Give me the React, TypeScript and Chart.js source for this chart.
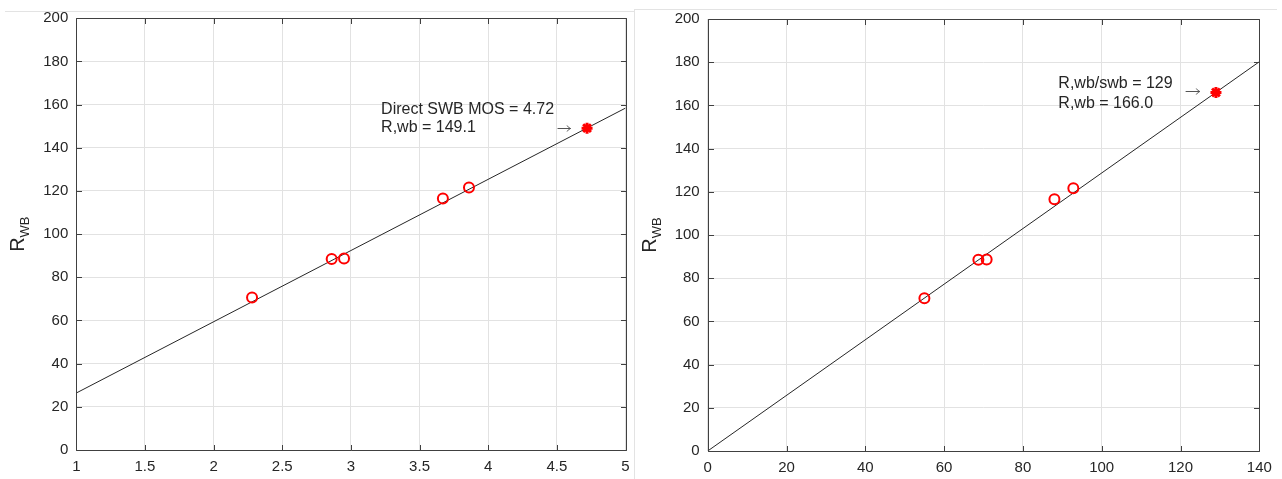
import React, { useEffect, useRef } from "react";
import { Chart, registerables } from "chart.js";

Chart.register(...registerables);

// ---------- data ----------
const R_WB_VALUES = [70.7, 88.5, 88.7, 116.5, 121.6];
const MOS_VALUES = [2.28, 2.86, 2.95, 3.67, 3.86];
const R_WB_SWB_VALUES = [55, 68.7, 70.8, 88, 92.8];

const LEFT_FIT_X = [1, 5];
const LEFT_FIT_Y = [26.4, 158.4];
const RIGHT_FIT_X = [0, 140];
const RIGHT_FIT_Y = [0, 180.2];

const LEFT_STAR_X = [4.72];
const LEFT_STAR_Y = [149.1];
const RIGHT_STAR_X = [129];
const RIGHT_STAR_Y = [166.0];

const LEFT_X_TICKS = [1, 1.5, 2, 2.5, 3, 3.5, 4, 4.5, 5];
const RIGHT_X_TICKS = [0, 20, 40, 60, 80, 100, 120, 140];
const Y_TICKS = [0, 20, 40, 60, 80, 100, 120, 140, 160, 180, 200];

const LEFT_NOTE = ["Direct SWB MOS = 4.72", "R,wb = 149.1"];
const RIGHT_NOTE = ["R,wb/swb = 129", "R,wb = 166.0"];
const Y_LABEL_MAIN = "R";
const Y_LABEL_SUB = "WB";

const FONT = "'Liberation Sans', Arial, sans-serif";
const TEXT_COLOR = "#262626";
const FRAME_COLOR = "#404040";
const GRID_COLOR = "#e2e2e2";

type Note = {
  lines: string[];
  textX: number;
  lineY: number[];
  arrowX: [number, number];
  arrowY: number;
};

function makePlugin(note: Note) {
  return {
    id: "matlabDecor",
    afterDraw(chart: any) {
      const { ctx, chartArea } = chart;
      const xs = chart.scales.x;
      const ys = chart.scales.y;
      const { left, right, top, bottom } = chartArea;
      ctx.save();
      // frame
      ctx.strokeStyle = FRAME_COLOR;
      ctx.lineWidth = 1;
      const L = Math.round(left) + 0.5;
      const R = Math.round(right) + 0.5;
      const T = Math.round(top) + 0.5;
      const B = Math.round(bottom) + 0.5;
      ctx.beginPath();
      ctx.rect(L, T, R - L, B - T);
      ctx.stroke();
      // inward ticks
      const tl = 5.5;
      ctx.beginPath();
      xs.ticks.forEach((t: any) => {
        const px = Math.round(xs.getPixelForValue(t.value)) + 0.5;
        ctx.moveTo(px, B);
        ctx.lineTo(px, B - tl);
        ctx.moveTo(px, T);
        ctx.lineTo(px, T + tl);
      });
      ys.ticks.forEach((t: any) => {
        const py = Math.round(ys.getPixelForValue(t.value)) + 0.5;
        ctx.moveTo(L, py);
        ctx.lineTo(L + tl, py);
        ctx.moveTo(R, py);
        ctx.lineTo(R - tl, py);
      });
      ctx.stroke();

      // y label R_WB
      const cy = (top + bottom) / 2;
      const bx = left - 52;
      ctx.translate(bx, cy);
      ctx.rotate(-Math.PI / 2);
      ctx.fillStyle = TEXT_COLOR;
      ctx.textBaseline = "alphabetic";
      ctx.font = `20px ${FONT}`;
      const wR = ctx.measureText(Y_LABEL_MAIN).width;
      ctx.font = `13px ${FONT}`;
      const wS = ctx.measureText(Y_LABEL_SUB).width;
      const x0 = -(wR + wS) / 2;
      ctx.font = `20px ${FONT}`;
      ctx.fillText(Y_LABEL_MAIN, x0, 0);
      ctx.font = `13px ${FONT}`;
      ctx.fillText(Y_LABEL_SUB, x0 + wR, 5);
      ctx.restore();

      // annotation text
      ctx.save();
      ctx.fillStyle = TEXT_COLOR;
      ctx.font = `16px ${FONT}`;
      ctx.textBaseline = "middle";
      ctx.textAlign = "left";
      note.lines.forEach((s, i) => {
        ctx.fillText(s, xs.getPixelForValue(note.textX), ys.getPixelForValue(note.lineY[i]));
      });
      // arrow
      const ax0 = xs.getPixelForValue(note.arrowX[0]);
      const ax1 = xs.getPixelForValue(note.arrowX[1]);
      const ay = Math.round(ys.getPixelForValue(note.arrowY)) + 0.5;
      ctx.strokeStyle = "#555555";
      ctx.lineWidth = 1;
      ctx.beginPath();
      ctx.moveTo(ax0, ay);
      ctx.lineTo(ax1, ay);
      ctx.moveTo(ax1 - 3.5, ay - 3);
      ctx.quadraticCurveTo(ax1 - 2, ay - 0.5, ax1, ay);
      ctx.moveTo(ax1 - 3.5, ay + 3);
      ctx.quadraticCurveTo(ax1 - 2, ay + 0.5, ax1, ay);
      ctx.stroke();
      ctx.restore();
    },
  };
}

type PanelProps = {
  fitX: number[];
  fitY: number[];
  ptsX: number[];
  ptsY: number[];
  starX: number[];
  starY: number[];
  xTicks: number[];
  xMin: number;
  xMax: number;
  note: Note;
  pad: { top: number; right: number };
  yWidth: number;
  xHeight: number;
};

function Panel(p: PanelProps) {
  const ref = useRef<HTMLCanvasElement>(null);
  useEffect(() => {
    if (!ref.current) return;
    const tickFont = { family: FONT, size: 15 };
    const chart = new Chart(ref.current, {
      type: "scatter",
      data: {
        datasets: [
          {
            type: "line",
            data: p.fitX.map((x, i) => ({ x, y: p.fitY[i] })),
            borderColor: "#262626",
            borderWidth: 1,
            pointRadius: 0,
            fill: false,
            order: 3,
          } as any,
          {
            data: p.ptsX.map((x, i) => ({ x, y: p.ptsY[i] })),
            pointStyle: "circle",
            pointRadius: 5,
            borderWidth: 2,
            borderColor: "#ff0000",
            backgroundColor: "rgba(0,0,0,0)",
            order: 2,
          },
          {
            data: p.starX.map((x, i) => ({ x, y: p.starY[i] })),
            pointStyle: "star",
            pointRadius: 5.5,
            borderWidth: 3,
            borderColor: "#ff0000",
            backgroundColor: "#ff0000",
            order: 1,
          },
        ],
      },
      options: {
        animation: false,
        responsive: true,
        maintainAspectRatio: false,
        events: [],
        layout: { padding: { top: p.pad.top, right: p.pad.right, left: 0, bottom: 0 } },
        plugins: { legend: { display: false }, tooltip: { enabled: false } },
        scales: {
          x: {
            type: "linear",
            min: p.xMin,
            max: p.xMax,
            afterBuildTicks: (s: any) => {
              s.ticks = p.xTicks.map((v) => ({ value: v }));
            },
            afterFit: (s: any) => {
              s.height = p.xHeight;
              s.paddingLeft = 0;
              s.paddingRight = 0;
            },
            ticks: {
              font: tickFont,
              color: TEXT_COLOR,
              padding: 8,
              autoSkip: false,
              maxRotation: 0,
              callback: (v: any) => String(v),
            },
            grid: { color: GRID_COLOR, drawTicks: false, lineWidth: 1 },
            border: { display: false },
          },
          y: {
            type: "linear",
            min: 0,
            max: 200,
            afterBuildTicks: (s: any) => {
              s.ticks = Y_TICKS.map((v) => ({ value: v }));
            },
            afterFit: (s: any) => {
              s.width = p.yWidth;
              s.paddingTop = 0;
              s.paddingBottom = 0;
            },
            ticks: {
              font: tickFont,
              color: TEXT_COLOR,
              padding: 8,
              autoSkip: false,
              callback: (v: any) => String(v),
            },
            grid: { color: GRID_COLOR, drawTicks: false, lineWidth: 1 },
            border: { display: false },
          },
        },
      },
      plugins: [makePlugin(p.note)],
    } as any);
    return () => chart.destroy();
  }, []);
  return <canvas ref={ref} />;
}

export default function App() {
  return (
    <div
      style={{
        position: "fixed",
        left: 0,
        top: 0,
        width: 1282,
        height: 479,
        background: "#ffffff",
        overflow: "hidden",
      }}
    >
      <div style={{ position: "absolute", left: 5, top: 11, width: 629, height: 0, borderTop: "1px solid #e3e3e3" }} />
      <div style={{ position: "absolute", left: 634, top: 9, width: 642, height: 470, borderTop: "1px solid #e3e3e3", borderLeft: "1px solid #e3e3e3" }} />
      <div style={{ position: "absolute", left: 0, top: 0, width: 634, height: 479 }}>
        <Panel
          fitX={LEFT_FIT_X}
          fitY={LEFT_FIT_Y}
          ptsX={MOS_VALUES}
          ptsY={R_WB_VALUES}
          starX={LEFT_STAR_X}
          starY={LEFT_STAR_Y}
          xTicks={LEFT_X_TICKS}
          xMin={1}
          xMax={5}
          note={{ lines: LEFT_NOTE, textX: 3.22, lineY: [157.9, 149.5], arrowX: [4.505, 4.6], arrowY: 149.1 }}
          pad={{ top: 18.3, right: 4.5 }}
          yWidth={76.3}
          xHeight={29}
        />
      </div>
      <div style={{ position: "absolute", left: 640, top: 0, width: 642, height: 479 }}>
        <Panel
          fitX={RIGHT_FIT_X}
          fitY={RIGHT_FIT_Y}
          ptsX={R_WB_SWB_VALUES}
          ptsY={R_WB_VALUES}
          starX={RIGHT_STAR_X}
          starY={RIGHT_STAR_Y}
          xTicks={RIGHT_X_TICKS}
          xMin={0}
          xMax={140}
          note={{ lines: RIGHT_NOTE, textX: 89, lineY: [170.2, 161.0], arrowX: [121.3, 124.9], arrowY: 166.8 }}
          pad={{ top: 19, right: 22.7 }}
          yWidth={67.7}
          xHeight={28}
        />
      </div>
    </div>
  );
}
